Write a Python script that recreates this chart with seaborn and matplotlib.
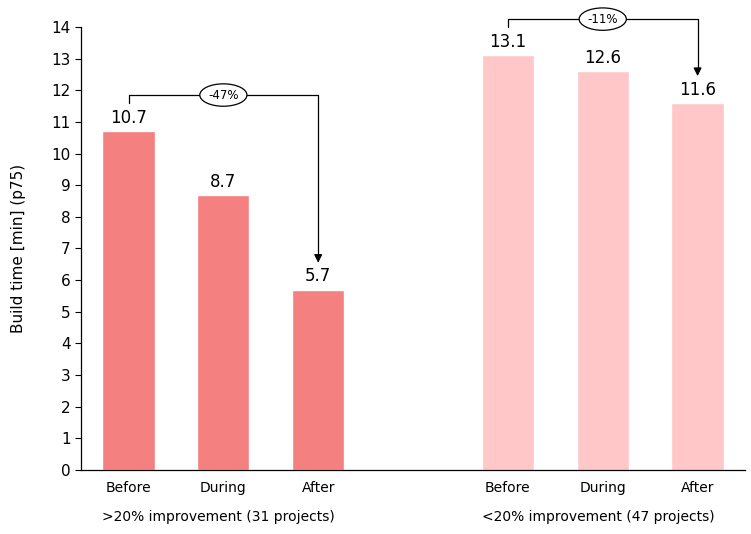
import numpy as np
import matplotlib
matplotlib.use("Agg")
import matplotlib.pyplot as plt
import seaborn as sns
import pandas as pd

# Données
phases = ["Before", "During", "After"]
groups = [">20% improvement (31 projects)", "<20% improvement (47 projects)"]
values_high = [10.7, 8.7, 5.7]
values_low = [13.1, 12.6, 11.6]
changes = ["-47%", "-11%"]
colors = ["#F48080", "#FFC7C7"]

sns.set_style("white")
plt.rcParams['font.family'] = ['DejaVu Sans']
plt.rcParams['text.color'] = 'black'
plt.rcParams['axes.labelcolor'] = 'black'
plt.rcParams['xtick.color'] = 'black'
plt.rcParams['ytick.color'] = 'black'

# Table pour seaborn, avec un emplacement vide entre les groupes
slots = [f"A_{p}" for p in phases] + ["gap"] + [f"B_{p}" for p in phases]
df = pd.DataFrame({
    "slot": [f"A_{p}" for p in phases] + [f"B_{p}" for p in phases],
    "value": values_high + values_low,
    "group": [groups[0]] * 3 + [groups[1]] * 3,
})

fig = plt.figure(figsize=(7.51, 5.34), dpi=100)
ax = fig.add_axes([0.108, 0.12, 0.884, 0.8294])

sns.barplot(data=df, x="slot", y="value", hue="group", order=slots,
            palette=colors, width=0.55, dodge=False, legend=False, ax=ax,
            saturation=1)

for c in ax.containers:
    ax.bar_label(c, fmt="%.1f", padding=3, fontsize=12, color="black")

ax.set_xlim(-0.5, 6.5)
ax.set_ylim(0, 14)
ax.set_yticks(range(0, 15))
ax.tick_params(axis="y", labelsize=11, length=4, left=True, direction="out", width=0.8)
ax.set_xticks([])
ax.set_xlabel("")
ax.set_ylabel("Build time [min] (p75)", fontsize=11, labelpad=18)
sns.despine(ax=ax)
for s in ["left", "bottom"]:
    ax.spines[s].set_color("black")
    ax.spines[s].set_linewidth(0.9)

# Libellés des catégories et des groupes
trans = ax.get_xaxis_transform()
pos_groups = [[0, 1, 2], [4, 5, 6]]
for gi, pos in enumerate(pos_groups):
    for p, name in zip(pos, phases):
        ax.text(p, -0.024, name, transform=trans, ha="center", va="top", fontsize=10)
    ax.text(pos[1] - 0.05, -0.09, groups[gi], transform=trans, ha="center", va="top", fontsize=10)

# Flèches de variation
all_vals = [values_high, values_low]
for gi, pos in enumerate(pos_groups):
    v = all_vals[gi]
    top = v[0] + 1.15
    x0, x1 = pos[0], pos[2]
    ax.plot([x0, x0, x1, x1], [v[0] + 0.9, top, top, v[2] + 1.0],
            color="black", lw=0.9, clip_on=False)
    ax.annotate("", xy=(x1, v[2] + 0.85), xytext=(x1, v[2] + 1.05),
                arrowprops=dict(arrowstyle="-|>", color="black", lw=0.9,
                                mutation_scale=12, shrinkA=0, shrinkB=0),
                annotation_clip=False)
    ax.text((x0 + x1) / 2, top, changes[gi], ha="center", va="center", fontsize=8.5,
            bbox=dict(boxstyle="ellipse,pad=0.12", fc="white", ec="black", lw=0.9),
            clip_on=False)

fig.savefig("out.png", dpi=100)
